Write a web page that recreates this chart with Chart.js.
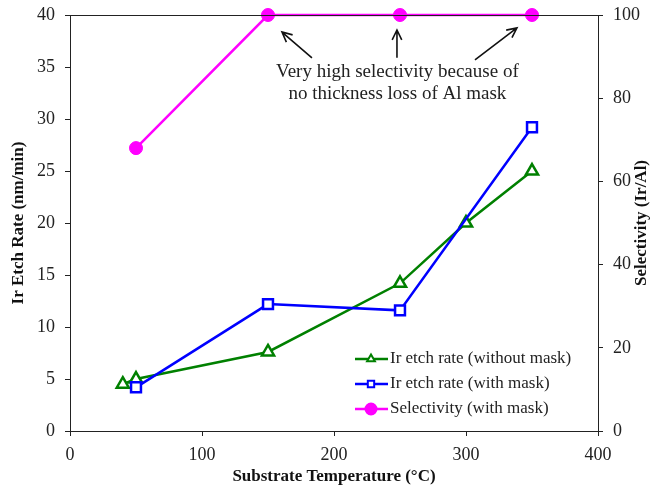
<!DOCTYPE html>
<html>
<head>
<meta charset="utf-8">
<script src="https://cdn.jsdelivr.net/npm/chart.js@4/dist/chart.umd.min.js"></script>
<style>
  html, body { margin: 0; padding: 0; background: #fff; }
  #wrap { width: 655px; height: 491px; }
</style>
</head>
<body>
<div id="wrap"><canvas id="c" width="655" height="491"></canvas></div>
<script>
// data
const tempNoMask = [40, 50, 150, 250, 300, 350];
const rateNoMask = [4.5, 5.0, 7.6, 14.2, 20.0, 25.0];
const tempMask = [50, 150, 250, 350];
const rateMask = [4.2, 12.2, 11.6, 29.2];
const tempSel = [50, 150, 250, 350];
const selectivity = [68, 100, 100, 100];

const xTicks = [0, 100, 200, 300, 400];
const labels = ['Ir etch rate (without mask)', 'Ir etch rate (with mask)', 'Selectivity (with mask)'];
const noteLines = ['Very high selectivity because of', 'no thickness loss of Al mask'];
const rightTitle = 'Selectivity (Ir/Al)';

const pts = (xs, ys) => xs.map((x, i) => ({ x, y: ys[i] }));
const serif = '"Liberation Serif", "Times New Roman", serif';

// frame, arrows, note, right title and legend, drawn after the datasets
const extras = {
    id: 'extras',
    afterDraw: (chart) => {
        const ctx = chart.ctx;
        const a = chart.chartArea;
        const x = chart.scales.x, y2 = chart.scales.y2;
        ctx.save();
        ctx.strokeStyle = '#222';
        ctx.lineWidth = 1;
        ctx.strokeRect(a.left + 0.5, a.top + 0.5, a.right - a.left, a.bottom - a.top);

        // note text
        const cx = x.getPixelForValue(248);
        ctx.fillStyle = '#222';
        ctx.font = '19px ' + serif;
        ctx.textAlign = 'center';
        ctx.textBaseline = 'middle';
        ctx.fillText(noteLines[0], cx, y2.getPixelForValue(86.3));
        ctx.fillText(noteLines[1], cx, y2.getPixelForValue(81));

        // arrows from the note towards the 100 points
        const arrow = (x0, v0, x1, v1) => {
            const sx = x.getPixelForValue(x0), sy = y2.getPixelForValue(v0);
            const ex = x.getPixelForValue(x1), ey = y2.getPixelForValue(v1);
            const ang = Math.atan2(ey - sy, ex - sx);
            ctx.strokeStyle = '#111';
            ctx.lineWidth = 1.6;
            ctx.beginPath();
            ctx.moveTo(sx, sy); ctx.lineTo(ex, ey);
            ctx.moveTo(ex - 11 * Math.cos(ang - 0.45), ey - 11 * Math.sin(ang - 0.45));
            ctx.lineTo(ex, ey);
            ctx.lineTo(ex - 11 * Math.cos(ang + 0.45), ey - 11 * Math.sin(ang + 0.45));
            ctx.stroke();
        };
        arrow(183.3, 89.7, 160.6, 95.9);
        arrow(247.7, 89.7, 247.7, 96.4);
        arrow(306.8, 89.2, 338.6, 96.9);

        // right axis title, reading bottom to top
        ctx.save();
        ctx.translate(642, (a.top + a.bottom) / 2);
        ctx.rotate(-Math.PI / 2);
        ctx.font = 'bold 17px ' + serif;
        ctx.fillStyle = '#111';
        ctx.fillText(rightTitle, 0, 0);
        ctx.restore();

        // legend
        const lx = 355, ly = 359, gap = 25;
        chart.data.datasets.forEach((ds, i) => {
            const yy = ly + i * gap;
            ctx.strokeStyle = ds.borderColor;
            ctx.lineWidth = 2.5;
            ctx.beginPath();
            ctx.moveTo(lx, yy); ctx.lineTo(lx + 33, yy);
            ctx.stroke();
            ctx.lineWidth = 2;
            ctx.fillStyle = ds.pointBackgroundColor;
            Chart.helpers.drawPoint(ctx, {
                pointStyle: ds.pointStyle,
                radius: i === 2 ? 5.5 : 4.5,
                borderWidth: 2
            }, lx + 16, yy);
            ctx.fillStyle = '#222';
            ctx.font = '17px ' + serif;
            ctx.textAlign = 'left';
            ctx.fillText(ds.label, lx + 35, yy);
        });
        ctx.restore();
    }
};

const tickFont = { family: serif, size: 18 };
const titleFont = { family: serif, size: 17, weight: 'bold' };

new Chart(document.getElementById('c'), {
    type: 'line',
    data: {
        datasets: [
            {
                label: labels[0], data: pts(tempNoMask, rateNoMask), yAxisID: 'y',
                borderColor: '#008000', backgroundColor: '#008000', pointBackgroundColor: '#fff',
                pointStyle: 'triangle', pointRadius: 7, pointBorderWidth: 2.5, borderWidth: 2.5, order: 3
            },
            {
                label: labels[1], data: pts(tempMask, rateMask), yAxisID: 'y',
                borderColor: '#0000ff', backgroundColor: '#0000ff', pointBackgroundColor: '#fff',
                pointStyle: 'rect', pointRadius: 7, pointBorderWidth: 2.5, borderWidth: 2.5, order: 2
            },
            {
                label: labels[2], data: pts(tempSel, selectivity), yAxisID: 'y2',
                borderColor: '#ff00ff', backgroundColor: '#ff00ff', pointBackgroundColor: '#ff00ff',
                pointStyle: 'circle', pointRadius: 6.5, pointBorderWidth: 1, borderWidth: 2.5, order: 1
            }
        ]
    },
    options: {
        responsive: false,
        animation: false,
        clip: false,
        layout: { padding: { top: 15, right: 0, left: 4, bottom: 0 } },
        plugins: { legend: { display: false }, tooltip: { enabled: false } },
        scales: {
            x: {
                type: 'linear', min: 0, max: 400,
                afterBuildTicks: (s) => { s.ticks = xTicks.map(v => ({ value: v })); },
                afterFit: (s) => { s.height = 60; s.paddingLeft = 0; s.paddingRight = 0; },
                grid: { drawOnChartArea: false, tickLength: 5, color: '#222' },
                border: { color: '#222' },
                ticks: { font: tickFont, color: '#222', padding: 8, maxRotation: 0 },
                title: { display: true, text: 'Substrate Temperature (°C)', font: titleFont, color: '#111', padding: { top: 0 } }
            },
            y: {
                position: 'left', min: 0, max: 40,
                afterFit: (s) => { s.width = 66; s.paddingTop = 0; s.paddingBottom = 0; },
                grid: { drawOnChartArea: false, tickLength: 5, color: '#222' },
                border: { color: '#222' },
                ticks: { stepSize: 5, font: tickFont, color: '#222', padding: 10 },
                title: { display: true, text: 'Ir Etch Rate (nm/min)', font: titleFont, color: '#111', padding: { bottom: 0 } }
            },
            y2: {
                position: 'right', min: 0, max: 100,
                afterFit: (s) => { s.width = 57; s.paddingTop = 0; s.paddingBottom = 0; },
                grid: { drawOnChartArea: false, tickLength: 5, color: '#222' },
                border: { color: '#222' },
                ticks: { stepSize: 20, font: tickFont, color: '#222', padding: 10 }
            }
        }
    },
    plugins: [extras]
});
</script>
</body>
</html>
